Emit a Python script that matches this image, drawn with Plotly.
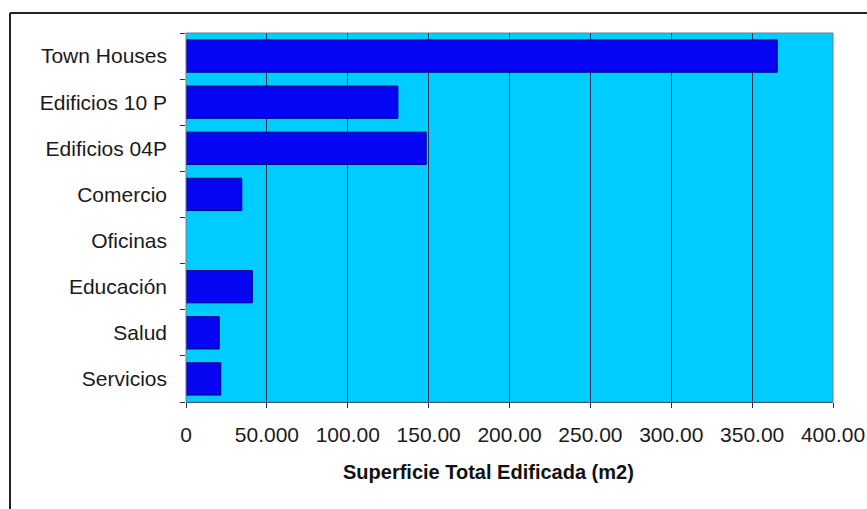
import plotly.graph_objects as go

# Built floor area by land-use type (m2)
categories = ["Town Houses", "Edificios 10 P", "Edificios 04P", "Comercio",
              "Oficinas", "Educación", "Salud", "Servicios"]
superficie = [365500, 131000, 148500, 34500, 0, 41000, 20500, 21500]

tick_values = [0, 50000, 100000, 150000, 200000, 250000, 300000, 350000, 400000]
tick_labels = ["0", "50.000", "100.00", "150.00", "200.00", "250.00",
               "300.00", "350.00", "400.00"]

W, H = 867, 509
L, R, T, B = 186, 833, 33, 402   # plot area in pixels


def px_x(x):
    return (x - L) / (R - L)


def px_y(y):
    return (B - y) / (B - T)


# no outline on empty bars
outline_widths = [1 if v > 0 else 0 for v in superficie]

fig = go.Figure(
    go.Bar(
        x=superficie,
        y=categories,
        orientation="h",
        marker=dict(color="#0606f2",
                    line=dict(color="#000080", width=outline_widths)),
    )
)

tick_font = dict(family="Liberation Sans, Arial, sans-serif", size=21, color="#1a1a1a")

fig.update_layout(
    width=W,
    height=H,
    margin=dict(l=L, r=W - R, t=T, b=H - B, autoexpand=False),
    paper_bgcolor="white",
    plot_bgcolor="#00ccff",
    bargap=0.3,
    showlegend=False,
    xaxis=dict(
        range=[0, 400000],
        tickmode="array",
        tickvals=tick_values,
        ticktext=tick_labels,
        tickfont=tick_font,
        showgrid=True,
        gridcolor="#1f3050",
        gridwidth=1,
        zeroline=False,
        showline=True,
        linecolor="#1f3050",
        linewidth=1,
        ticks="outside",
        ticklen=5,
        tickcolor="#1f3050",
        ticklabelstandoff=9,
        automargin=False,
    ),
    yaxis=dict(
        categoryorder="array",
        categoryarray=categories[::-1],
        tickfont=tick_font,
        tickson="boundaries",
        ticks="outside",
        ticklen=5,
        tickcolor="#1f3050",
        showgrid=False,
        showline=False,
        ticklabelstandoff=18,
        automargin=False,
    ),
    shapes=[
        # plot-area frame
        dict(type="rect", xref="paper", yref="paper", x0=0, x1=1, y0=0, y1=1,
             line=dict(color="#6f7f8a", width=1), layer="above"),
        # outer chart border (top and left edges)
        dict(type="line", xref="paper", yref="paper",
             x0=px_x(10), x1=px_x(880), y0=px_y(13), y1=px_y(13),
             line=dict(color="#222222", width=2)),
        dict(type="line", xref="paper", yref="paper",
             x0=px_x(10), x1=px_x(10), y0=px_y(13), y1=px_y(530),
             line=dict(color="#222222", width=2)),
    ],
    annotations=[
        dict(text="<b>Superficie Total Edificada (m2)</b>",
             xref="paper", yref="paper", x=px_x(488), y=px_y(472),
             xanchor="center", yanchor="middle", showarrow=False,
             font=dict(family="Liberation Sans, Arial, sans-serif",
                       size=20, color="#111111")),
    ],
)

fig.write_html("out.html")
